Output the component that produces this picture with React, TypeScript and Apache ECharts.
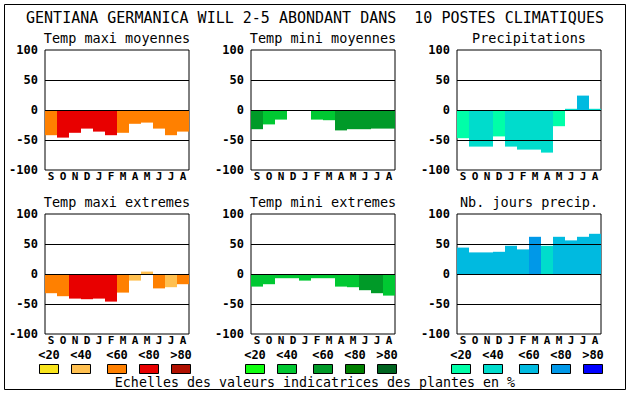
import React, { useEffect, useRef } from "react";
import * as echarts from "echarts";

const months = ["S", "O", "N", "D", "J", "F", "M", "A", "M", "J", "J", "A"];

const mainTitle = "GENTIANA GERMANICA WILL 2-5 ABONDANT DANS  10 POSTES CLIMATIQUES";
const footerText = "Echelles des valeurs indicatrices des plantes en %";

const panelTitles = [
  "Temp maxi moyennes",
  "Temp mini moyennes",
  "Precipitations",
  "Temp maxi extremes",
  "Temp mini extremes",
  "Nb. jours precip.",
];

// values (percent) and class index (0..4 => <20 .. >80, -1 => none)
const maxiMoyValues = [-42, -46, -38, -31, -36, -42, -38, -23, -21, -31, -42, -36];
const maxiMoyClasses = [2, 3, 3, 3, 3, 3, 2, 2, 2, 2, 2, 2];
const miniMoyValues = [-32, -24, -16, -4, -4, -16, -17, -34, -32, -32, -31, -31];
const miniMoyClasses = [2, 1, 1, -1, -1, 1, 1, 2, 2, 2, 2, 2];
const precipValues = [-47, -61, -61, -44, -61, -66, -66, -71, -27, 2, 24, 2];
const precipClasses = [0, 1, 1, 0, 1, 1, 1, 1, 0, 1, 2, 1];
const maxiExtValues = [-32, -37, -41, -42, -41, -46, -31, -11, 4, -24, -22, -17];
const maxiExtClasses = [2, 2, 3, 3, 3, 3, 2, 1, 1, 2, 1, 2];
const miniExtValues = [-21, -17, -7, -7, -11, -7, -7, -21, -22, -27, -32, -36];
const miniExtClasses = [1, 1, 1, 1, 1, 1, 1, 1, 1, 2, 2, 1];
const joursValues = [44, 36, 36, 37, 47, 41, 62, 47, 62, 56, 62, 67];
const joursClasses = [2, 2, 2, 2, 2, 2, 3, 1, 2, 2, 2, 2];

const legendLabels = ["<20", "<40", "<60", "<80", ">80"];
const redScale = ["#F8E41C", "#FFC050", "#FF8000", "#E80000", "#B01000"];
const greenScale = ["#10FF10", "#00C832", "#009A28", "#008000", "#006420"];
const blueScale = ["#00FFA8", "#00DCCC", "#00BAE0", "#0098E8", "#0000FF"];

const panelValues = [maxiMoyValues, miniMoyValues, precipValues, maxiExtValues, miniExtValues, joursValues];
const panelClasses = [maxiMoyClasses, miniMoyClasses, precipClasses, maxiExtClasses, miniExtClasses, joursClasses];
const panelScales = [redScale, greenScale, blueScale, redScale, greenScale, blueScale];

const MONO = "'DejaVu Sans Mono', 'Liberation Mono', monospace";

export default function App() {
  const ref = useRef<HTMLDivElement>(null);

  useEffect(() => {
    document.body.style.margin = "0";
    if (!ref.current) return;
    const chart = echarts.init(ref.current, undefined, { renderer: "svg" });

    const gridLefts = [45, 251, 457];
    const gridTops = [50, 214];
    const gw = 144;
    const gh = 120;

    const grids: any[] = [];
    const xAxes: any[] = [];
    const yAxes: any[] = [];
    const series: any[] = [];
    const graphics: any[] = [];

    for (let p = 0; p < 6; p++) {
      const col = p % 3;
      const row = Math.floor(p / 3);
      const left = gridLefts[col];
      const top = gridTops[row];
      grids.push({
        left,
        top,
        width: gw,
        height: gh,
        show: true,
        borderColor: "#000",
        borderWidth: 1,
        backgroundColor: "#fff",
      });
      xAxes.push({
        gridIndex: p,
        type: "category",
        data: months,
        axisLine: { show: false },
        axisTick: { show: false },
        axisLabel: {
          interval: 0,
          margin: 1,
          color: "#000",
          fontFamily: MONO,
          fontWeight: "bold",
          fontSize: 11,
        },
        splitLine: { show: false },
      });
      yAxes.push({
        gridIndex: p,
        type: "value",
        min: -100,
        max: 100,
        interval: 50,
        axisLine: { show: false },
        axisTick: { show: false },
        splitLine: { show: false },
        axisLabel: {
          margin: 7,
          color: "#000",
          fontFamily: MONO,
          fontWeight: "bold",
          fontSize: 12,
        },
      });
      const scale = panelScales[p];
      series.push({
        type: "bar",
        xAxisIndex: p,
        yAxisIndex: p,
        barCategoryGap: "0%",
        barWidth: "100%",
        data: panelValues[p].map((v, i) => {
          const c = panelClasses[p][i];
          return { value: v, itemStyle: { color: c < 0 ? "#fff" : scale[c] } };
        }),
        markLine: {
          silent: true,
          symbol: ["none", "none"],
          label: { show: false },
          lineStyle: { color: "#000", type: "solid", width: 1 },
          data: [{ yAxis: 50 }, { yAxis: 0 }, { yAxis: -50 }],
        },
      });
      graphics.push({
        type: "text",
        x: left + gw / 2,
        y: top - 12,
        style: {
          text: panelTitles[p],
          fill: "#000",
          font: `13.5px ${MONO}`,
          textAlign: "center",
          textVerticalAlign: "middle",
        },
      });
    }

    // legends
    const offsets = [0, 32, 68, 100, 132];
    const legendScales = [redScale, greenScale, blueScale];
    for (let g = 0; g < 3; g++) {
      const base = gridLefts[g] - 6;
      for (let i = 0; i < 5; i++) {
        const bx = base + offsets[i];
        graphics.push({
          type: "rect",
          shape: { x: bx + 0.5, y: 364.5, width: 19, height: 9 },
          style: { fill: legendScales[g][i], stroke: "#000", lineWidth: 1 },
        });
        graphics.push({
          type: "text",
          x: bx + 10,
          y: 354.5,
          style: {
            text: legendLabels[i],
            fill: "#000",
            font: `bold 12px ${MONO}`,
            textAlign: "center",
            textVerticalAlign: "middle",
          },
        });
      }
    }

    graphics.push({
      type: "text",
      x: 315,
      y: 18,
      style: {
        text: mainTitle,
        fill: "#000",
        font: `15px ${MONO}`,
        textAlign: "center",
        textVerticalAlign: "middle",
      },
    });
    graphics.push({
      type: "text",
      x: 315,
      y: 382,
      style: {
        text: footerText,
        fill: "#000",
        font: `13.3px ${MONO}`,
        textAlign: "center",
        textVerticalAlign: "middle",
      },
    });
    graphics.push({
      type: "rect",
      shape: { x: 4.5, y: 4.5, width: 621, height: 385 },
      style: { fill: "none", stroke: "#000", lineWidth: 1 },
    });

    chart.setOption({
      animation: false,
      backgroundColor: "#fff",
      grid: grids,
      xAxis: xAxes,
      yAxis: yAxes,
      series,
      graphic: graphics,
    });

    return () => chart.dispose();
  }, []);

  return <div ref={ref} style={{ width: 630, height: 394 }} />;
}
